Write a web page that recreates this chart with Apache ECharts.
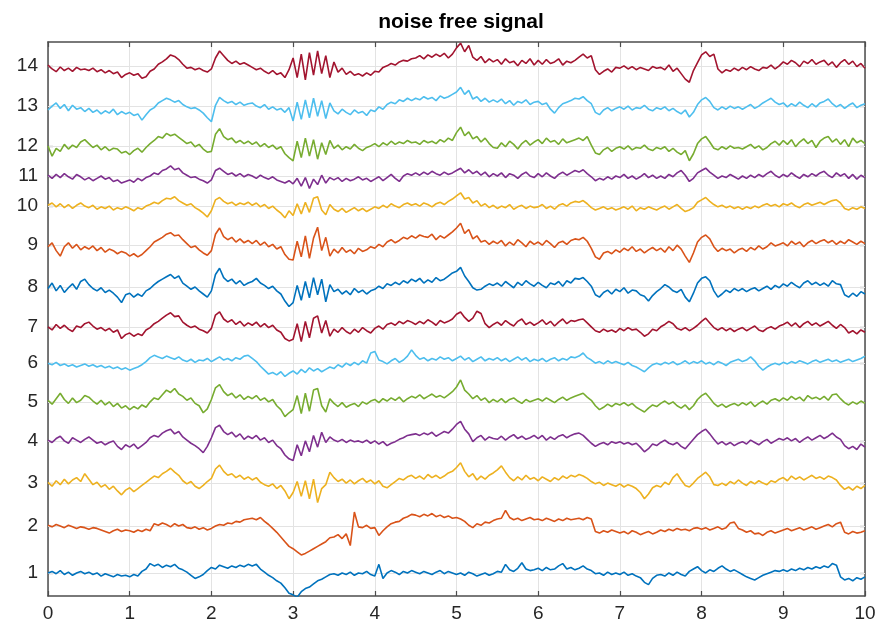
<!DOCTYPE html>
<html>
<head>
<meta charset="utf-8">
<title>noise free signal</title>
<script src="https://cdn.jsdelivr.net/npm/echarts@6/dist/echarts.min.js"></script>
<style>
  html, body { margin: 0; padding: 0; background: #fff; }
  #chart { width: 881px; height: 629px; }
</style>
</head>
<body>
<div id="chart"></div>
<script>
// channel tick positions on the y axis (the labels 1..14 sit at these values)
var tickPos = [1.00, 2.20, 3.30, 4.38, 5.38, 6.37, 7.30, 8.32, 9.39, 10.39, 11.16, 11.93, 12.95, 13.98];
var yLabels = ['1', '2', '3', '4', '5', '6', '7', '8', '9', '10', '11', '12', '13', '14'];
var xTicks = [0, 1, 2, 3, 4, 5, 6, 7, 8, 9, 10];
var xStep = 0.05; // samples every 0.05 on x, 201 per channel

// deviation of each channel from its tick position, in hundredths
var sig1 = [0,4,-2,6,-4,2,-6,0,4,-2, 2,-4,0,-8,-2,-6,-10,-4,-8,-6,
  -10,-4,-8,4,10,24,18,22,14,20, 16,22,12,8,2,-6,-14,-10,-4,6,
  14,10,20,16,12,18,14,20,16,22, 18,22,10,2,-6,-12,-20,-26,-38,-52,
  -56,-62,-48,-40,-36,-28,-20,-16,-10,-4, -2,-6,0,-4,2,-6,0,-2,4,-4,
  -8,22,-14,0,6,2,-4,4,0,6, 2,-2,4,0,-4,2,6,-2,4,0,
  -4,0,-6,2,-2,-8,-4,0,-6,-2, 4,2,22,8,4,12,26,10,6,8,
  12,6,14,8,10,18,24,10,14,8, 12,18,10,6,-2,0,-6,2,-4,0,
  -4,2,-6,-2,-8,-12,-24,-30,-14,-6, -4,-8,0,-6,2,-4,-8,4,10,16,
  6,0,8,4,12,18,10,4,8,2, -4,-10,-14,-18,-12,-6,-2,2,6,4,
  8,4,10,6,12,8,14,10,16,12, 18,14,24,20,-10,-18,-14,-20,-12,-16,
  -10];
var sig2 = [2,-2,4,0,-4,2,-2,-6,-2,-4, -8,-4,-6,-10,-14,-18,-12,-8,-14,-10,
  -12,-16,-10,-14,-8,-12,6,2,8,4, -2,6,0,4,-4,-6,-2,-8,-4,-10,
  -6,0,4,2,8,6,12,10,16,18, 20,16,22,12,4,-6,-16,-28,-40,-52,
  -58,-66,-74,-70,-64,-58,-52,-46,-40,-30, -28,-22,-32,-20,-50,36,-2,-4,2,-6,
  -4,-24,-12,-2,6,10,12,20,24,30, 28,24,30,26,32,24,28,22,26,20,
  22,18,12,2,-4,6,2,10,8,14, 18,20,40,22,16,20,14,18,22,16,
  18,14,20,16,12,18,14,20,16,18, 20,16,22,18,-14,-18,-12,-16,-10,-14,
  -18,-14,-20,-12,-16,-22,-18,-14,-20,-16, -10,-14,-8,-12,-6,-10,-8,-12,-6,-4,
  -8,-4,-10,-6,-2,-8,-4,8,10,-6, -10,-16,-12,-20,-18,-24,-16,-12,-18,-14,
  -10,-6,-12,-8,-4,-10,-6,-2,-8,-4, 0,4,-2,6,10,-16,-20,-14,-18,-16,
  -12];
var sig3 = [2,-8,6,-4,10,-2,8,14,4,24, 10,-4,2,-10,-4,-16,-8,-20,-30,-18,
  -12,-22,-14,-6,2,10,18,14,24,30, 38,28,20,6,-2,4,-8,-14,-6,4,
  12,36,46,30,20,24,14,20,10,16, 8,14,2,-4,-8,-2,-14,-6,-20,-40,
  -24,4,-34,6,-40,10,-50,-14,-4,28, 14,4,10,0,8,-2,6,12,2,8,
  -2,6,-8,-12,-4,4,12,8,16,20, 12,18,10,22,14,20,12,18,26,30,
  40,52,30,16,24,8,18,10,20,26, 34,44,28,14,6,16,8,20,10,14,
  6,16,10,4,14,8,18,12,20,16, 22,18,12,4,-2,2,-6,0,-4,-8,
  -2,-10,-4,-8,-14,-24,-40,-28,-12,-6, -10,2,-4,14,24,8,-6,-10,0,12,
  20,28,16,-4,-6,0,-6,4,-2,8, 0,-6,4,-2,6,0,-4,6,2,10,
  14,6,18,10,16,8,14,20,12,16, 10,18,14,8,-6,-16,-10,-18,-8,-14,
  -6];
var sig4 = [2,-4,6,12,0,-6,8,2,-4,4, 10,2,-6,-2,-10,-4,0,-14,-22,-10,
  -16,-8,-20,-12,-4,8,14,10,20,26, 30,18,24,10,2,-6,-12,-20,-30,-14,
  8,34,40,24,16,22,10,18,4,12, 6,14,2,8,-4,2,-12,-20,-36,-46,
  -50,-10,-38,0,-28,14,-16,22,-4,10, 2,-2,4,-4,2,-2,0,-4,2,-6,
  0,-8,-2,-12,-6,-2,4,8,14,16, 18,14,20,16,22,12,18,24,20,30,
  42,50,30,18,-2,8,14,2,10,6, 4,12,2,10,16,6,12,4,8,14,
  6,14,2,10,4,12,16,8,14,18, 20,14,4,-6,-14,-8,-4,-10,-2,-6,
  -2,-8,-4,-10,-6,-16,-28,-20,-8,-12, -4,2,-6,-10,-4,-14,-20,-8,4,16,
  24,30,18,4,-8,-2,-10,-4,-12,-6, -2,-8,2,-4,-10,-2,4,-6,0,6,
  2,8,0,6,-4,4,10,2,8,14, 6,12,20,10,4,-12,-20,-14,-22,-8,
  -16];
var sig5 = [4,-6,8,22,6,-4,10,-2,4,16, 12,2,-6,4,-8,0,-12,-4,-16,-10,
  -20,-12,-18,-8,-14,0,10,6,18,30, 24,34,20,14,4,10,-4,-10,-28,-18,
  6,36,44,26,16,22,10,18,6,14, 8,16,4,10,0,6,-10,-20,-38,-28,
  -20,16,-30,22,-24,30,34,-10,-26,8, -4,-12,-2,-14,-8,-4,-12,0,-6,2,
  6,-2,8,2,10,4,12,0,8,14, 10,18,8,14,20,12,16,10,18,26,
  38,56,30,20,8,16,4,10,-2,6, 0,8,-2,6,10,2,-4,6,0,4,
  8,2,10,4,-2,6,12,4,10,14, 18,22,12,4,-10,-20,-14,-6,-12,-4,
  -8,-2,-10,-4,-14,-20,-26,-16,-8,-12, -4,2,-6,0,-10,-16,-8,-20,-10,6,
  16,22,10,-4,-12,-6,-14,-8,-4,-10, -2,-8,0,-12,-4,2,-6,4,8,2,
  10,4,14,6,12,2,16,8,12,6, 14,4,18,20,8,-2,-8,0,-6,2,
  -4];
var sig6 = [0,-4,2,-6,-2,-8,-4,-10,-6,-2, -8,-4,-10,-6,-12,-8,-14,-10,-16,-12,
  -18,-14,-10,-4,4,14,20,16,12,18, 14,10,16,8,4,10,2,8,6,12,
  4,10,16,8,12,6,14,10,18,20, 12,4,-8,-18,-28,-24,-30,-22,-34,-26,
  -20,-28,-16,-24,-12,-20,-14,-22,-16,-10, -14,-4,-10,0,-6,2,-4,6,0,26,
  30,8,4,-2,6,12,2,8,18,34, 20,10,14,6,12,8,16,10,14,6,
  12,18,8,14,4,10,16,6,12,8, 14,6,12,4,10,16,8,14,4,10,
  6,12,4,10,14,6,12,8,16,14, 18,26,14,8,0,4,-2,6,0,4,
  0,-4,2,-6,-10,-16,-22,-12,-4,0, -4,2,-2,4,-4,0,6,-2,4,0,
  6,-2,2,-4,4,0,-6,2,6,10, 4,8,16,6,-8,-18,-10,-4,0,-4,
  2,-2,4,0,6,2,-2,4,8,2, 6,10,4,8,2,6,10,4,8,12,
  18];
var sig7 = [0,-8,6,-4,4,-6,-12,2,-2,8, 12,2,-6,-2,-10,-4,-14,-8,-30,-20,
  -16,-24,-18,-22,-8,-2,8,14,22,30, 36,26,28,12,4,-2,2,-6,-10,-16,
  -4,30,38,20,12,18,6,14,2,10, 4,12,0,8,-2,4,-8,-14,-30,-36,
  -32,8,-38,14,-28,22,28,-16,16,-24, -6,-14,-2,-12,-18,-6,-14,-2,-10,-16,
  -4,2,-6,6,10,4,14,8,16,12, 6,14,8,18,12,4,16,10,14,20,
  32,38,24,14,22,40,34,8,-2,6, 12,4,16,8,2,14,20,6,12,4,
  10,18,6,14,2,12,20,8,16,14, 18,20,10,0,-10,-14,-6,-12,-8,-14,
  -4,-10,-2,-8,-6,-14,-24,-18,-6,-10, 0,6,14,8,-4,-8,-2,-10,-4,4,
  14,22,10,-2,-8,-2,-10,-4,-12,-6, -2,-10,-4,2,-8,-12,-4,0,-6,2,
  6,12,2,10,-2,8,14,4,10,2, 8,14,4,-4,6,-2,-16,-10,-18,-8,
  -14];
var sig8 = [-4,10,-10,4,-14,-2,8,-6,14,20, 6,-4,-10,-2,-14,-8,-16,-26,-40,-20,
  -16,-26,-18,-24,-10,-4,6,14,20,26, 32,22,28,10,2,-6,0,-10,-18,-26,
  -10,32,48,24,14,20,8,16,4,10, 14,22,10,4,-4,2,-10,-18,-36,-50,
  -40,4,-34,14,-28,24,-20,20,-38,6, -12,-6,-18,-10,-20,-4,-14,-8,-18,-10,
  -6,2,-4,8,4,12,6,16,10,20, 14,22,10,18,12,24,16,20,28,36,
  40,50,28,14,-2,-8,-6,2,8,4, 10,2,14,6,-2,12,4,16,8,2,
  12,4,-2,10,6,14,2,16,10,22, 20,24,14,2,-20,-26,-14,-8,-18,-6,
  -12,-2,-16,-8,-10,-20,-24,-36,-22,-12, -4,6,0,-10,-14,-6,-26,-38,-16,10,
  22,26,16,-10,-26,-18,-8,-14,-4,-10, -4,-12,-6,-2,-10,-4,2,-6,4,-2,
  8,2,12,4,-2,10,16,6,12,4, 10,2,16,8,6,-20,-26,-16,-24,-12,
  -18];
var sig9 = [-4,6,-14,-28,-4,6,-8,2,-12,-4, -10,-2,-14,-6,-18,-10,-14,-22,-16,-20,
  -28,-22,-30,-24,-14,-4,8,14,20,28, 32,24,26,14,4,-6,-2,-12,-20,-26,
  -14,28,44,22,14,20,8,16,6,12, 4,12,0,8,-4,2,-10,-4,-24,-36,
  -38,10,-30,24,-34,18,46,-14,20,-28, -10,-20,-6,-18,-12,-22,-8,-16,-12,-4,
  -8,2,-4,8,14,6,12,20,16,24, 18,26,22,20,28,14,24,18,26,34,
  44,56,30,40,16,24,8,12,2,10, 4,12,-2,8,0,14,6,-4,10,2,
  8,0,12,4,-6,6,10,2,12,16, 14,20,10,-8,-30,-36,-20,-16,-22,-12,
  -18,-8,-14,-4,-16,-10,-20,-12,-6,-14, -8,-18,-4,-14,0,-10,-28,-44,-20,8,
  20,26,16,-4,-16,-8,-14,-10,-20,-12, -8,-16,-6,-12,-2,-10,-4,6,-2,2,
  6,-2,10,2,8,-4,6,12,4,10, 14,6,12,2,10,4,14,8,2,10,
  4];
var sig10 = [2,8,-2,6,-4,4,-6,2,8,0, -4,2,-8,-2,-6,0,-10,-4,-8,-2,
  -6,-12,-4,-8,0,4,10,6,14,20, 18,24,14,8,2,6,-4,-10,-18,-28,
  -12,16,22,12,6,10,2,8,4,10, 2,8,-2,4,-6,0,-10,-18,-30,-12,
  -24,6,-20,10,-16,20,24,-10,-22,4, -8,-14,-6,-16,-10,-4,-12,-6,-14,-8,
  -2,-6,2,-4,6,0,-4,4,8,2, 6,0,8,4,-2,6,10,4,12,18,
  26,34,18,22,8,14,0,6,-4,2, -6,0,-4,4,-8,-2,2,-6,0,-4,
  -2,4,-6,0,-8,2,6,0,8,12, 10,14,6,-4,-10,-6,-2,-8,-4,-10,
  -6,-2,-8,0,-12,-4,-8,-2,-6,-10, -4,0,-8,-2,4,-6,-14,-10,-4,10,
  16,22,12,4,-2,2,-4,0,-6,-2, -8,-2,-6,0,-4,2,6,0,4,-2,
  6,2,8,0,-4,4,8,2,6,10, 4,10,14,16,8,-6,-10,-4,-8,-2,
  -6];
var sig11 = [2,-6,4,-4,6,-2,-8,4,-2,-10, -4,-12,-6,0,-8,-4,-14,-10,-18,-14,
  -10,-16,-6,-12,-4,0,8,4,14,18, 26,16,20,8,2,-4,-2,-8,-12,-18,
  -10,14,20,12,4,8,0,6,-2,4, 0,-6,2,-4,-8,-2,-10,-14,-18,-12,
  -20,-6,-26,-4,-32,-8,-22,2,-18,-4, -10,-4,-14,-6,-12,-8,-2,-10,-6,-14,
  -8,-2,-12,-4,4,-6,-14,0,6,2, 8,2,10,4,12,6,2,10,4,8,
  14,20,8,16,6,12,2,10,-2,6, 0,8,-4,6,2,-6,4,10,0,-4,
  6,-2,8,0,-6,4,10,2,8,14, 10,16,6,-2,-12,-6,-10,-2,-8,0,
  -4,4,-6,0,-8,-2,6,-4,2,-6, 0,-6,4,-2,8,14,2,-14,-6,8,
  14,20,10,2,-6,0,-4,4,-2,-8, 0,-6,2,-4,4,-2,6,12,2,-4,
  4,-2,8,0,-6,4,-2,6,0,8, 12,2,-4,8,0,6,-6,4,-8,2,
  -4];
var sig12 = [0,-26,-6,-14,4,-8,2,-4,10,16, 6,-4,2,-10,-2,-12,-6,-8,-18,-14,
  -22,-12,-6,-16,-4,6,14,24,20,32, 26,30,22,14,6,10,-2,4,-8,-16,
  -14,30,44,24,16,20,8,14,6,12, 4,10,-2,6,-4,2,-8,-2,-20,-30,
  -38,12,-30,20,-26,16,-34,8,-22,14, -6,2,-10,-2,-8,4,-6,-12,-4,0,
  6,-2,8,2,12,4,10,6,14,8, 10,4,14,8,12,6,16,10,20,14,
  34,48,26,36,18,24,10,20,6,-4, -6,8,-2,12,4,-8,6,14,2,10,
  16,6,20,10,14,4,18,8,12,16, 20,14,24,2,-18,-22,-10,-4,-14,-6,
  -2,-8,0,-10,-4,-6,2,-8,-12,-4, -8,-2,-14,-6,-16,-22,-12,-38,-20,6,
  18,24,10,-6,-10,-2,-8,0,-6,-4, -8,-2,4,-6,0,-10,-4,6,12,2,
  14,4,16,-2,10,18,6,14,-4,12, 20,24,10,18,4,16,-2,20,8,14,
  6];
var sig13 = [-10,0,8,-6,4,-12,2,-8,-4,-14, -6,-16,-10,-20,-12,-18,-8,-22,-14,-20,
  -16,-24,-20,-36,-22,-10,-4,8,14,20, 16,10,14,4,-2,-6,-4,-10,-18,-30,
  -40,2,22,14,8,12,4,10,2,6, 8,0,-4,4,-8,-2,-10,-6,-16,-4,
  -38,10,-34,16,-30,20,-26,14,-32,8, -12,-20,-8,-16,-22,-10,-18,-14,-24,-10,
  -14,-2,-8,4,10,6,16,12,20,14, 20,16,24,18,22,14,26,20,24,30,
  36,48,30,40,18,24,12,20,10,16, 10,18,6,14,2,12,8,16,4,10,
  12,4,8,-8,-18,-4,6,10,14,20, 18,24,14,6,-16,-22,-10,-4,-12,-6,
  -2,-8,0,-10,-4,-6,2,-8,-12,-4, -8,-2,-12,-6,-14,-20,-10,-28,-16,4,
  16,22,12,-4,-10,-2,-8,0,-6,-2, -8,-2,4,-6,0,8,14,20,10,4,
  8,-2,6,0,10,2,-4,6,-2,8, 12,18,6,-2,4,-6,2,8,-4,2,
  6];
var sig14 = [2,-8,-15,-3,-12,-6,-14,-4,-10,-8, -12,-6,-15,-10,-18,-12,-20,-16,-30,-22,
  -18,-24,-20,-32,-28,-14,-8,4,10,18, 28,24,16,4,-6,-4,-10,-6,-12,-16,
  -8,20,38,26,14,6,12,4,8,2, -4,-10,-6,-14,-20,-12,-22,-18,-30,-10,
  20,-30,30,-36,34,-24,38,-20,26,-30, 10,-16,-6,-22,-14,-24,-20,-26,-18,-24,
  -14,-16,-4,0,6,2,10,14,12,18, 20,26,18,28,22,30,24,32,20,30,
  46,58,36,52,22,14,24,8,18,10, 16,4,18,8,12,0,14,6,18,2,
  14,4,16,6,10,18,2,12,8,14, 22,30,20,26,-10,-22,-14,-8,-16,-4,
  -6,0,-8,-2,-10,-4,-8,-12,-2,-6, -4,-10,2,-14,-6,-20,-34,-42,-12,8,
  28,36,24,30,-8,-18,-10,-14,-6,-12, -4,-10,-2,-8,-12,-4,-6,2,-8,0,
  10,4,14,8,-2,12,6,16,4,10, 14,2,10,-4,8,16,4,12,-2,6,
  -6];

var signals = [sig1, sig2, sig3, sig4, sig5, sig6, sig7, sig8, sig9, sig10, sig11, sig12, sig13, sig14];
// MATLAB default line colour order
var colors = ['#0072BD', '#D95319', '#EDB120', '#7E2F8E', '#77AC30', '#4DBEEE', '#A2142F'];

var axisColor = '#4d4d4d';
var labelColor = '#262626';
var gridColor = '#e3e3e3';
var yMin = 0.41, yMax = 14.59;

var chart = echarts.init(document.getElementById('chart'), null, { renderer: 'canvas' });

function buildSeries() {
  var list = [];
  // horizontal grid lines at the channel ticks, kept under the signals
  list.push({
    type: 'line',
    data: [],
    z: 1,
    silent: true,
    markLine: {
      z: 1,
      silent: true,
      symbol: ['none', 'none'],
      label: { show: false },
      lineStyle: { color: gridColor, width: 1, type: 'solid' },
      data: tickPos.map(function (v) { return { yAxis: v }; })
    }
  });
  for (var c = 0; c < signals.length; c++) {
    var pts = [];
    for (var i = 0; i < signals[c].length; i++) {
      pts.push([+(i * xStep).toFixed(2), tickPos[c] + signals[c][i] / 100]);
    }
    list.push({
      name: yLabels[c],
      type: 'line',
      data: pts,
      z: 6,
      showSymbol: false,
      symbol: 'none',
      silent: true,
      lineStyle: { color: colors[c % colors.length], width: 1.6 },
      itemStyle: { color: colors[c % colors.length] }
    });
  }
  return list;
}

var option = {
  animation: false,
  backgroundColor: '#fff',
  title: {
    text: 'noise free signal',
    left: 456,
    textAlign: 'center',
    top: 7,
    textStyle: { fontFamily: 'Liberation Sans', fontWeight: 'bold', fontSize: 21, color: '#000' }
  },
  grid: { left: 48, right: 16, top: 42, bottom: 33, containLabel: false },
  xAxis: [{
    type: 'value', position: 'bottom', min: 0, max: 10, interval: 1,
    axisLine: { show: true, onZero: false, lineStyle: { color: axisColor, width: 1.5 } },
    axisTick: { show: true, inside: true, length: 5, lineStyle: { color: axisColor, width: 1.2 } },
    axisLabel: { show: true, margin: 8, fontFamily: 'Liberation Sans', fontSize: 19, color: labelColor,
      formatter: function (v) { return xTicks.indexOf(v) >= 0 ? String(v) : ''; } },
    splitLine: { show: true, lineStyle: { color: gridColor, width: 1 } }
  }, {
    type: 'value', position: 'top', min: 0, max: 10, interval: 1,
    axisLine: { show: true, onZero: false, lineStyle: { color: axisColor, width: 1.5 } },
    axisTick: { show: true, inside: true, length: 5, lineStyle: { color: axisColor, width: 1.2 } },
    axisLabel: { show: false },
    splitLine: { show: false }
  }],
  yAxis: [{
    type: 'value', position: 'left', min: yMin, max: yMax,
    axisLine: { show: true, onZero: false, lineStyle: { color: axisColor, width: 1.5 } },
    axisTick: { show: true, inside: true, length: 5, customValues: tickPos, lineStyle: { color: axisColor, width: 1.2 } },
    axisLabel: { show: true, margin: 10, fontFamily: 'Liberation Sans', fontSize: 19, color: labelColor,
      customValues: tickPos,
      formatter: function (v) {
        for (var k = 0; k < tickPos.length; k++) {
          if (Math.abs(tickPos[k] - v) < 1e-6) return yLabels[k];
        }
        return '';
      } },
    splitLine: { show: false }
  }, {
    type: 'value', position: 'right', min: yMin, max: yMax,
    axisLine: { show: true, onZero: false, lineStyle: { color: axisColor, width: 1.5 } },
    axisTick: { show: true, inside: true, length: 5, customValues: tickPos, lineStyle: { color: axisColor, width: 1.2 } },
    axisLabel: { show: false },
    splitLine: { show: false }
  }],
  series: buildSeries()
};

chart.setOption(option);
</script>
</body>
</html>
